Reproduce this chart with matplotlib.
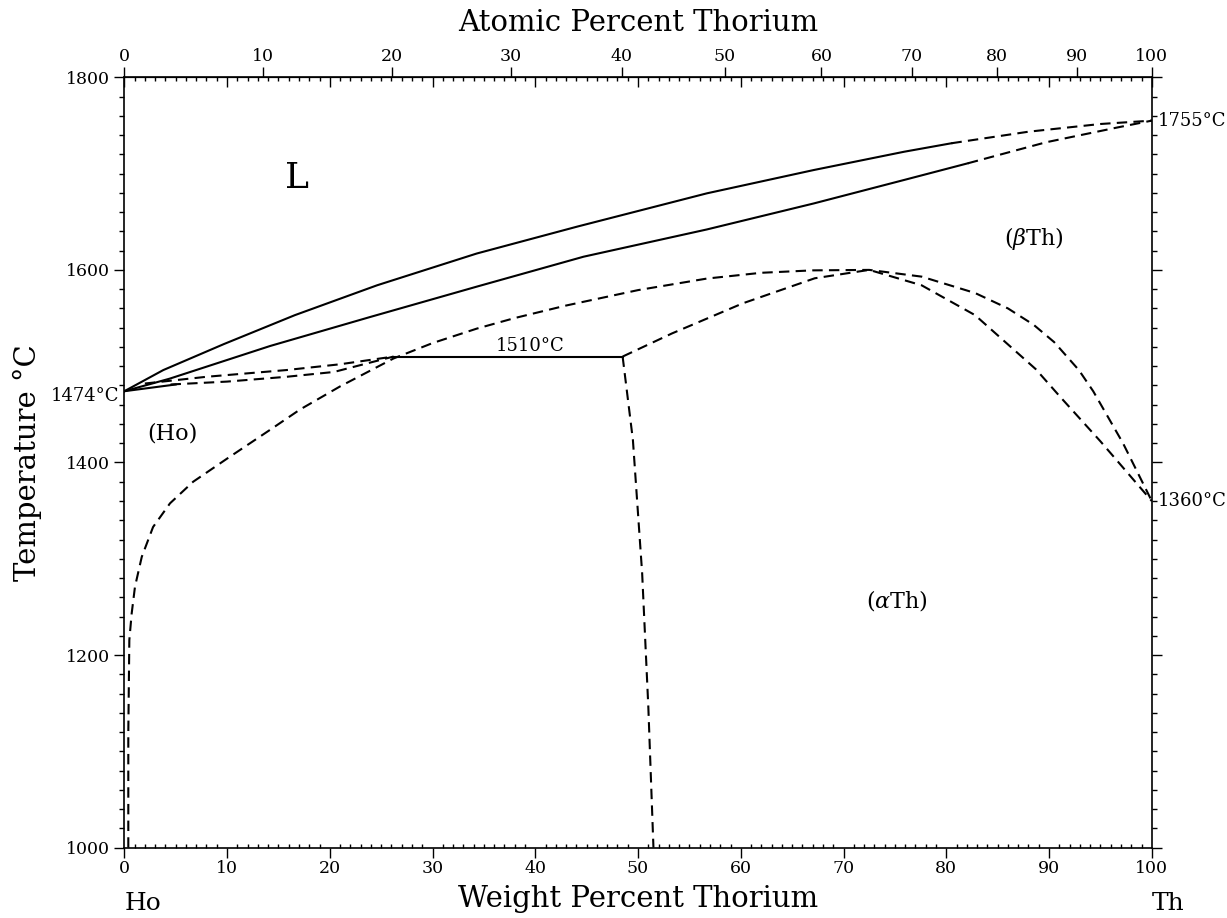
import numpy as np
import matplotlib
matplotlib.use("Agg")
import matplotlib.pyplot as plt
from matplotlib.ticker import MultipleLocator, NullFormatter, NullLocator

plt.rcParams['font.family'] = ['DejaVu Serif']
plt.rcParams['mathtext.fontset'] = 'dejavuserif'

# liquidus (L / L+(bTh)), solid part then dashed part
liq_wt = [0, 3.8, 9.7, 16.6, 24.6, 34.3, 44.1, 56.7, 67.1, 75.9, 80.5]
liq_T = [1474, 1496, 1523, 1553, 1584, 1617, 1645, 1679.5, 1703.7, 1722.7, 1731.5]
liq_d_wt = [80.5, 88.0, 95.0, 100]
liq_d_T = [1731.5, 1743.5, 1751.5, 1755]

# solidus of (bTh)
sol_wt = [0, 4.4, 14.2, 23.9, 34.3, 44.7, 56.7, 67.1, 75.9, 82.1]
sol_T = [1474, 1487, 1521, 1551, 1582.6, 1613.7, 1642, 1669, 1693.4, 1710.7]
sol_d_wt = [82.1, 89.7, 96.7, 100]
sol_d_T = [1710.7, 1732.5, 1748, 1755]

# short solid piece at the Ho melting point
ho_wt = [0, 5.0]
ho_T = [1474, 1481]

# (Ho) liquidus / solidus up to the peritectic
hol_wt = [2.0, 8.0, 15.8, 21.0, 26.2]
hol_T = [1482, 1489, 1496, 1502, 1510]
hos_wt = [4.5, 10.0, 15.8, 20.4, 26.2]
hos_T = [1481, 1484, 1489, 1494, 1510]

# peritectic horizontal
peri_wt = [26.2, 48.5]
peri_T = [1510, 1510]

# outer dome
dome_wt = [0.39, 0.39, 0.49, 0.72, 1.04, 1.7, 2.8, 4.45, 6.7, 10.0, 14.2, 17.1,
           21.0, 26.2, 30.0, 34.3, 38.0, 43.0, 50.0, 56.7, 62.0, 67.0, 72.5,
           77.6, 82.8, 86.0, 88.5, 90.5, 92.9, 94.3, 97.2, 100]
dome_T = [1000, 1119, 1215.6, 1243.4, 1271, 1302, 1333, 1357.6, 1380, 1404,
          1434, 1455, 1479, 1508, 1524, 1539, 1550, 1563, 1579, 1591, 1597,
          1599.5, 1600, 1593, 1576, 1560, 1543, 1525, 1496, 1474, 1420, 1360]

# inner dome
inner_wt = [48.5, 53.3, 60.2, 67.2, 72.5, 77.6, 82.8, 88.7, 91.1, 95.0, 100]
inner_T = [1510, 1534, 1565.3, 1591.3, 1600, 1584, 1553, 1497, 1468, 1422, 1360]

# (aTh) solvus
ath_wt = [48.5, 49.5, 50.4, 51.0, 51.5]
ath_T = [1510, 1423.4, 1285, 1146.4, 1000]

M_HO = 164.93
M_TH = 232.04


def wt2at(w):
    w = np.asarray(w, dtype=float)
    a = w / M_TH
    b = (100 - w) / M_HO
    with np.errstate(divide='ignore', invalid='ignore'):
        return 100 * a / (a + b)


def at2wt(a):
    a = np.asarray(a, dtype=float)
    p = a * M_TH
    q = (100 - a) * M_HO
    with np.errstate(divide='ignore', invalid='ignore'):
        return 100 * p / (p + q)


fig = plt.figure(figsize=(12.27, 9.18), dpi=100)
ax = fig.add_axes([0.1013, 0.0766, 0.8374, 0.8392])

lw = 1.5
dash = (0, (5, 3))
ax.plot(liq_wt, liq_T, color='black', lw=lw)
ax.plot(liq_d_wt, liq_d_T, color='black', lw=lw, linestyle=dash)
ax.plot(sol_wt, sol_T, color='black', lw=lw)
ax.plot(sol_d_wt, sol_d_T, color='black', lw=lw, linestyle=dash)
ax.plot(ho_wt, ho_T, color='black', lw=lw)
ax.plot(hol_wt, hol_T, color='black', lw=lw, linestyle=dash)
ax.plot(hos_wt, hos_T, color='black', lw=lw, linestyle=dash)
ax.plot(peri_wt, peri_T, color='black', lw=lw)
ax.plot(dome_wt, dome_T, color='black', lw=lw, linestyle=dash)
ax.plot(inner_wt, inner_T, color='black', lw=lw, linestyle=dash)
ax.plot(ath_wt, ath_T, color='black', lw=lw, linestyle=dash)

ax.set_xlim(0, 100)
ax.set_ylim(1000, 1800)

ax.xaxis.set_major_locator(MultipleLocator(10))
ax.xaxis.set_minor_locator(MultipleLocator(1))
ax.yaxis.set_major_locator(MultipleLocator(200))
ax.yaxis.set_minor_locator(MultipleLocator(20))

# bottom: majors out, minors in; left/right: all out
ax.tick_params(axis='x', which='major', direction='out', length=7, width=1,
               labelsize=12.5, pad=2, top=False)
ax.tick_params(axis='x', which='minor', direction='in', length=3, width=1,
               top=False)
ax.tick_params(axis='y', which='major', direction='out', length=7, width=1,
               labelsize=12.5, pad=3, right=True)
ax.tick_params(axis='y', which='minor', direction='out', length=3.5, width=1,
               right=True)

for s in ax.spines.values():
    s.set_linewidth(1.2)

# top: weight-percent ticks pointing inward, no labels
top_wt = ax.secondary_xaxis('top')
top_wt.xaxis.set_major_locator(MultipleLocator(10))
top_wt.xaxis.set_minor_locator(MultipleLocator(1))
top_wt.xaxis.set_major_formatter(NullFormatter())
top_wt.tick_params(which='major', direction='in', length=7, width=1)
top_wt.tick_params(which='minor', direction='in', length=3, width=1)

# top: atomic-percent scale
sec = ax.secondary_xaxis('top', functions=(wt2at, at2wt))
sec.set_xticks(np.arange(0, 101, 10))
sec.xaxis.set_minor_locator(NullLocator())
sec.tick_params(direction='out', length=7, width=1, labelsize=12.5, pad=2)
sec.set_xlabel('Atomic Percent Thorium', fontsize=21, labelpad=12)

ax.set_xlabel('Weight Percent Thorium', fontsize=21)
ax.xaxis.set_label_coords(0.5, -0.048)
ax.set_ylabel('Temperature °C', fontsize=21)
ax.yaxis.set_label_coords(-0.080, 0.5)

ax.text(0, -0.072, 'Ho', transform=ax.transAxes, fontsize=18, ha='left',
        va='center')
ax.text(1.0, -0.072, 'Th', transform=ax.transAxes, fontsize=18, ha='left',
        va='center')

ax.text(16.8, 1695, 'L', fontsize=26, ha='center', va='center')
ax.text(4.7, 1429.6, '(Ho)', fontsize=16, ha='center', va='center')
ax.text(88.5, 1633, r'($\beta$Th)', fontsize=16, ha='center', va='center')
ax.text(75.2, 1257, r'($\alpha$Th)', fontsize=16, ha='center', va='center')
ax.text(39.5, 1512, '1510°C', fontsize=13, ha='center', va='bottom')
ax.text(-0.5, 1469, '1474°C', fontsize=13, ha='right', va='center')
ax.text(100.6, 1755, '1755°C', fontsize=13, ha='left', va='center')
ax.text(100.6, 1360, '1360°C', fontsize=13, ha='left', va='center')

fig.savefig('out.png', dpi=100)
